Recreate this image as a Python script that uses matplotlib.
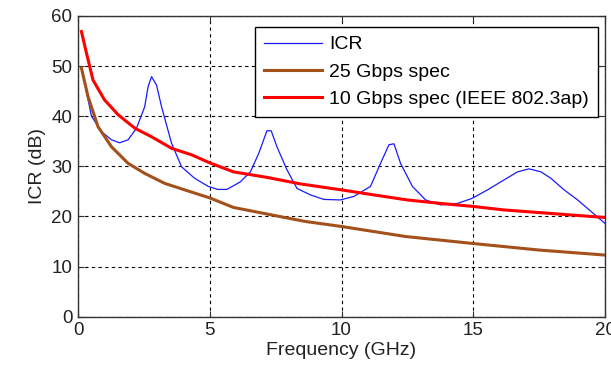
import matplotlib
matplotlib.use('Agg')
import matplotlib.pyplot as plt

plt.rcParams['font.family'] = ['Liberation Sans', 'DejaVu Sans']

icr_freq = [0.19, 0.51, 0.89, 1.27, 1.58, 1.9, 2.22, 2.53, 2.66, 2.79, 2.98, 3.17,
            3.55, 3.93, 4.43, 4.94, 5.3, 5.65, 6.16, 6.54, 6.86, 7.17, 7.33, 7.55,
            7.93, 8.31, 8.82, 9.33, 9.96, 10.47, 11.1, 11.48, 11.8, 11.99, 12.24,
            12.69, 13.19, 13.76, 14.4, 14.95, 15.54, 16.17, 16.68, 17.12, 17.57,
            17.95, 18.45, 18.96, 19.47, 20.0]
icr_db = [48.2, 40.0, 36.9, 35.3, 34.7, 35.3, 37.6, 41.9, 45.9, 47.9, 46.2, 41.9,
          34.6, 29.9, 27.6, 26.0, 25.4, 25.4, 26.9, 28.9, 32.6, 37.1, 37.1, 33.9,
          29.3, 25.6, 24.3, 23.4, 23.3, 24.0, 26.0, 30.6, 34.3, 34.5, 30.6,
          26.0, 23.3, 22.3, 22.6, 23.6, 25.3, 27.3, 28.9, 29.5, 28.9,
          27.6, 25.3, 23.3, 21.0, 18.6]

# 25 Gbps spec (brown)
spec25_freq = [0.13, 0.38, 0.76, 1.27, 1.9, 2.53, 3.29, 4.17, 5.0, 5.9, 7.55, 8.63,
               10.0, 12.43, 15.0, 17.5, 20.0]
spec25_db = [49.6, 43.9, 37.9, 33.9, 30.6, 28.6, 26.6, 25.1, 23.7, 21.8, 20.1, 19.0,
             18.0, 16.0, 14.6, 13.3, 12.3]

# 10 Gbps spec, IEEE 802.3ap (red)
spec10_freq = [0.13, 0.32, 0.57, 1.0, 1.52, 2.16, 2.79, 3.55, 4.31, 5.0, 5.9, 7.17,
               8.44, 10.0, 11.23, 12.49, 13.76, 15.0, 16.17, 17.44, 18.71, 20.0]
spec10_db = [56.9, 52.6, 47.2, 43.3, 40.3, 37.6, 35.9, 33.6, 32.3, 30.7, 28.9, 27.8,
             26.5, 25.3, 24.3, 23.3, 22.6, 22.0, 21.3, 20.8, 20.3, 19.8]

fig = plt.figure(figsize=(6.11, 3.69), dpi=100)
ax = fig.add_axes([0.1277, 0.1417, 0.8625, 0.815])

ax.plot(icr_freq, icr_db, color='#1a1aff', lw=0.9, label='ICR')
ax.plot(spec25_freq, spec25_db, color='#a4501a', lw=2.2, label='25 Gbps spec')
ax.plot(spec10_freq, spec10_db, color='#ff0000', lw=2.2, label='10 Gbps spec (IEEE 802.3ap)')

ax.set_xlim(0, 20)
ax.set_ylim(0, 60)
ax.set_xticks([0, 5, 10, 15, 20])
ax.set_yticks([0, 10, 20, 30, 40, 50, 60])
ax.grid(True, color='black', linestyle=(0, (3, 3)), lw=0.8)
ax.tick_params(direction='in', length=4, top=True, right=True, labelsize=13.5,
               color='#333333', labelcolor='#222222', pad=4)
for s in ax.spines.values():
    s.set_color('#333333')
    s.set_linewidth(1.0)

ax.set_xlabel('Frequency (GHz)', fontsize=14, color='#222222', labelpad=2)
ax.set_ylabel('ICR (dB)', fontsize=14, color='#222222', labelpad=4)

leg = ax.legend(loc='upper right', bbox_to_anchor=(0.986, 0.963), fontsize=14,
                fancybox=False, framealpha=1, edgecolor='black',
                handlelength=3.0, handletextpad=0.35, borderpad=0.45,
                labelspacing=0.5, borderaxespad=0)
leg.get_frame().set_linewidth(1.0)

fig.savefig('out.png', dpi=100)
